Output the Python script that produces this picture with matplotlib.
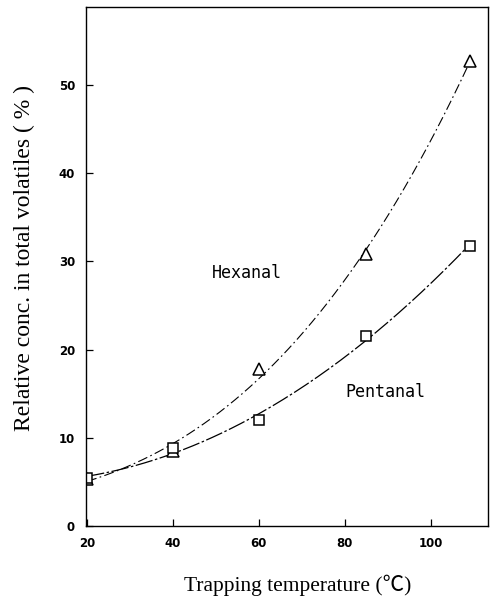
import numpy as np
import matplotlib
matplotlib.use("Agg")
import matplotlib.pyplot as plt

# values
temp = [20, 40, 60, 85, 109]
hexanal = [5.3, 8.5, 17.8, 30.8, 52.7]
pentanal = [5.5, 8.8, 12.0, 21.5, 31.8]

x_ticks = [20, 40, 60, 80, 100]
y_ticks = [0, 10, 20, 30, 40, 50]

serif = ["Liberation Serif", "Noto Sans CJK JP"]

fig = plt.figure(figsize=(4.92, 6.02), dpi=100)
ax = fig.add_axes([0.175, 0.126, 0.817, 0.862])

# smooth fitted curves through the points
xs = np.linspace(temp[0], temp[-1], 200)
hex_fit = np.polyfit(temp, hexanal, 3)
pen_fit = np.polyfit(temp, pentanal, 2)
ax.plot(xs, np.polyval(hex_fit, xs), color="black", lw=0.8, ls=(0, (9, 3, 1.5, 3)))
ax.plot(xs, np.polyval(pen_fit, xs), color="black", lw=0.9, ls=(0, (14, 2, 2, 2)))

ax.plot(temp, hexanal, ls="none", marker="^", ms=8, mfc="white", mec="black", mew=1.1)
ax.plot(temp, pentanal, ls="none", marker="s", ms=7.5, mfc="white", mec="black", mew=1.1)

ax.text(49, 28.7, "Hexanal", family="DejaVu Sans Mono", fontsize=12, va="center")
ax.text(80, 15.2, "Pentanal", family="DejaVu Sans Mono", fontsize=12, va="center")

ax.set_xlim(19.8, 113.3)
ax.set_ylim(0, 58.8)
ax.set_xticks(x_ticks)
ax.set_yticks(y_ticks)
ax.tick_params(direction="in", length=5, width=0.9, labelsize=8.5, pad=8)
for lab in ax.get_xticklabels() + ax.get_yticklabels():
    lab.set_fontweight("bold")
for s in ax.spines.values():
    s.set_linewidth(1.0)

ax.set_xlabel("Trapping temperature (\u2103)", family=serif, fontsize=15.5)
ax.set_ylabel("Relative conc. in total volatiles ( % )", family=serif, fontsize=17)
ax.xaxis.set_label_coords(0.527, -0.094)
ax.yaxis.set_label_coords(-0.127, 0.516)

fig.savefig("out.png", dpi=100)
